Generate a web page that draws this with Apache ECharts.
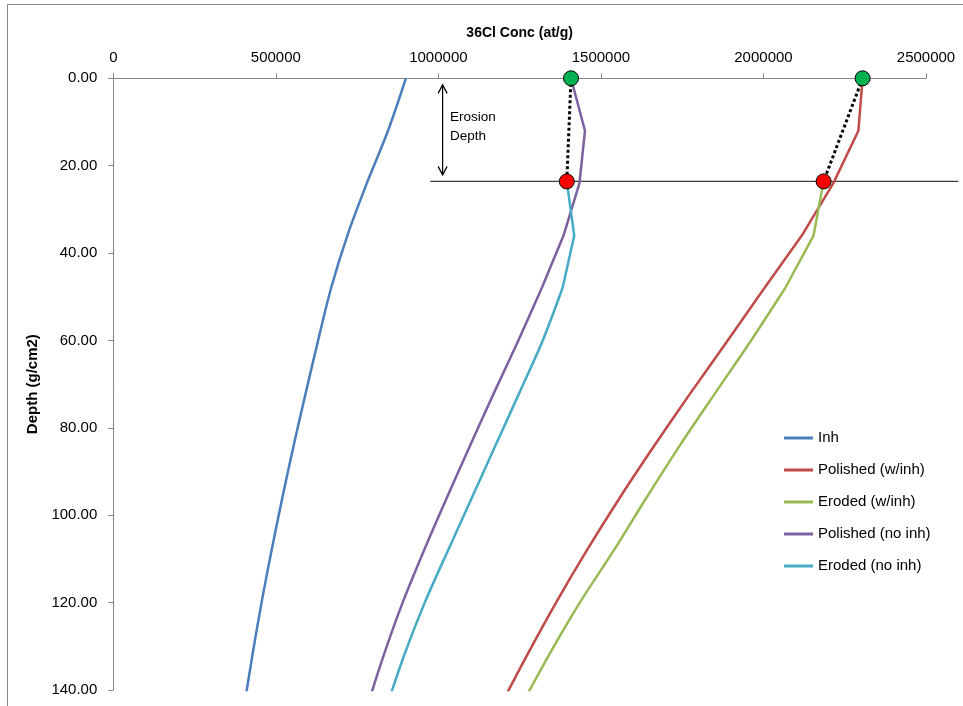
<!DOCTYPE html>
<html>
<head>
<meta charset="utf-8">
<script src="https://cdn.jsdelivr.net/npm/echarts@6/dist/echarts.min.js"></script>
<style>
  html, body { margin: 0; padding: 0; background: #fff; }
  #chart { width: 963px; height: 706px; }
</style>
</head>
<body>
<div id="chart"></div>
<script>
// Depth profile of 36Cl concentration (at/g) versus mass depth (g/cm2)
const depths = [0, 12, 24, 36, 48, 60, 72, 84, 96, 108, 120, 132, 144];
const erodedDepths = [23.6, 36, 48, 60, 72, 84, 96, 108, 120, 132, 144];

const inh = [900000, 845000, 780000, 720000, 670000, 630000, 592000, 555000, 520000, 487000, 456000, 428000, 402000];
const polishedWInh = [2305000, 2292000, 2215000, 2118000, 2003000, 1890000, 1776000, 1665000, 1558000, 1457000, 1362000, 1273000, 1188000];
const erodedWInh = [2185000, 2154000, 2067000, 1962000, 1852000, 1743000, 1640000, 1540000, 1435000, 1340000, 1252000];
const polishedNoInh = [1408000, 1451000, 1434000, 1385000, 1318000, 1246000, 1171000, 1098000, 1026000, 956000, 890000, 832000, 780000];
const erodedNoInh = [1395000, 1418000, 1382000, 1321000, 1249000, 1176000, 1103000, 1030000, 958000, 895000, 840000];

const seriesNames = ['Inh', 'Polished (w/inh)', 'Eroded (w/inh)', 'Polished (no inh)', 'Eroded (no inh)'];

// Surface (before erosion) and eroded-surface concentrations
const surfacePoints = [[1408000, 0], [2305000, 0]];
const erodedPoints = [[1395000, 23.6], [2185000, 23.6]];

// Erosion depth reference line and arrow
const erosionDepth = 23.6;
const erosionLineX = [975000, 2600000];
const arrowX = 1013000;
const arrowDepths = [1.5, 22.1];

// Below this depth the profiles are drawn as smooth curves
const smoothFrom = 48;

const xTicks = { min: 0, max: 2500000, interval: 500000 };
const yTicks = { min: 0, max: 140, interval: 20 };

const pairs = (xs, ys) => xs.map((v, i) => [v, ys[i]]);

const FONT = '"Liberation Sans", Arial, sans-serif';
const AXIS_GRAY = '#868686';

const chart = echarts.init(document.getElementById('chart'), null, { renderer: 'canvas' });

const lineSeries = (name, data, color, smooth) => ({
  name: name,
  type: 'line',
  data: data,
  symbol: 'none',
  smooth: smooth,
  lineStyle: { color: color, width: 2.5 },
  itemStyle: { color: color },
  z: 3
});

// Sharp segments near the surface, smooth curve deeper down (same legend entry)
const profile = (name, values, ds, color) => {
  const pts = pairs(values, ds);
  return [
    lineSeries(name, pts.filter(p => p[1] <= smoothFrom), color, false),
    lineSeries(name, pts.filter(p => p[1] >= smoothFrom), color, 0.3)
  ];
};

const dottedLink = (a, b) => ({
  type: 'line',
  data: [a, b],
  symbol: 'none',
  showSymbol: false,
  lineStyle: { color: '#000', width: 3, type: [3, 2.5] },
  z: 4,
  silent: true
});

const marker = (points, color) => ({
  type: 'scatter',
  data: points,
  symbol: 'circle',
  symbolSize: 15,
  clip: false,
  itemStyle: { color: color, borderColor: '#000', borderWidth: 1, opacity: 1 },
  emphasis: { disabled: true },
  z: 10
});

const option = {
  animation: false,
  backgroundColor: '#fff',
  grid: { left: 113.3, right: 37, top: 78.3, bottom: 16, containLabel: false },
  xAxis: {
    type: 'value',
    position: 'top',
    min: xTicks.min, max: xTicks.max, interval: xTicks.interval,
    name: '36Cl Conc (at/g)',
    nameLocation: 'middle',
    nameGap: 45,
    nameTextStyle: { fontFamily: FONT, fontSize: 14, fontWeight: 'bold', color: '#000', verticalAlign: 'middle' },
    axisLine: { show: true, lineStyle: { color: AXIS_GRAY, width: 1 } },
    axisTick: { show: true, inside: false, length: 5, lineStyle: { color: AXIS_GRAY } },
    axisLabel: { margin: 13, fontFamily: FONT, fontSize: 15, color: '#000', formatter: v => String(v) },
    splitLine: { show: false }
  },
  yAxis: {
    type: 'value',
    inverse: true,
    min: yTicks.min, max: yTicks.max, interval: yTicks.interval,
    name: 'Depth (g/cm2)',
    nameLocation: 'middle',
    nameGap: 71,
    nameRotate: 90,
    nameTextStyle: { fontFamily: FONT, fontSize: 15, fontWeight: 'bold', color: '#000', verticalAlign: 'middle' },
    axisLine: { show: true, lineStyle: { color: AXIS_GRAY, width: 1 } },
    axisTick: { show: true, inside: false, length: 5, lineStyle: { color: AXIS_GRAY } },
    axisLabel: { margin: 16, fontFamily: FONT, fontSize: 15, color: '#000', formatter: v => v.toFixed(2) },
    splitLine: { show: false }
  },
  legend: {
    data: seriesNames,
    orient: 'vertical',
    left: 779,
    top: 425,
    icon: 'rect',
    itemWidth: 29,
    itemHeight: 3,
    itemGap: 16,
    textStyle: { fontFamily: FONT, fontSize: 15, color: '#000', lineHeight: 16 }
  },
  series: [
    lineSeries(seriesNames[0], pairs(inh, depths), '#4A7EBB', 0.3),
    ...profile(seriesNames[1], polishedWInh, depths, '#BE4B48'),
    ...profile(seriesNames[2], erodedWInh, erodedDepths, '#98B954'),
    ...profile(seriesNames[3], polishedNoInh, depths, '#7D60A0'),
    ...profile(seriesNames[4], erodedNoInh, erodedDepths, '#46AAC5'),
    dottedLink(surfacePoints[0], erodedPoints[0]),
    dottedLink(surfacePoints[1], erodedPoints[1]),
    marker(surfacePoints, '#00B050'),
    marker(erodedPoints, '#FF0000')
  ]
};

chart.setOption(option);

// Erosion-depth line (runs past the plot edge), double-headed arrow and label
const toPx = (v, d) => chart.convertToPixel({ gridIndex: 0 }, [v, d]);
const lineStart = toPx(erosionLineX[0], erosionDepth);
const lineEnd = toPx(erosionLineX[1], erosionDepth);
const arrowTop = toPx(arrowX, arrowDepths[0]);
const arrowBot = toPx(arrowX, arrowDepths[1]);
const head = 4.5, headLen = 8.5;
const arrowStyle = { stroke: '#000', lineWidth: 1.2, fill: null };

chart.setOption({
  graphic: [
    {
      type: 'rect',
      shape: { x: 7.5, y: 4.5, width: 1200, height: 1200 },
      style: { stroke: AXIS_GRAY, lineWidth: 1, fill: null },
      silent: true,
      z: -1
    },
    {
      type: 'line',
      shape: { x1: lineStart[0], y1: lineStart[1], x2: lineEnd[0], y2: lineEnd[1] },
      style: { stroke: '#3c3c3c', lineWidth: 1.3 },
      silent: true,
      z: 1
    },
    {
      type: 'line',
      shape: { x1: arrowTop[0], y1: arrowTop[1], x2: arrowBot[0], y2: arrowBot[1] },
      style: arrowStyle, silent: true
    },
    {
      type: 'polyline',
      shape: { points: [[arrowTop[0] - head, arrowTop[1] + headLen], [arrowTop[0], arrowTop[1]], [arrowTop[0] + head, arrowTop[1] + headLen]] },
      style: arrowStyle, silent: true
    },
    {
      type: 'polyline',
      shape: { points: [[arrowBot[0] - head, arrowBot[1] - headLen], [arrowBot[0], arrowBot[1]], [arrowBot[0] + head, arrowBot[1] - headLen]] },
      style: arrowStyle, silent: true
    },
    {
      type: 'text',
      x: arrowTop[0] + 7.5,
      y: (arrowTop[1] + arrowBot[1]) / 2 - 3,
      style: {
        text: 'Erosion\nDepth',
        fontFamily: FONT,
        fontSize: 13.5,
        lineHeight: 19,
        fill: '#000',
        align: 'left',
        verticalAlign: 'middle'
      },
      silent: true
    }
  ]
});
</script>
</body>
</html>
